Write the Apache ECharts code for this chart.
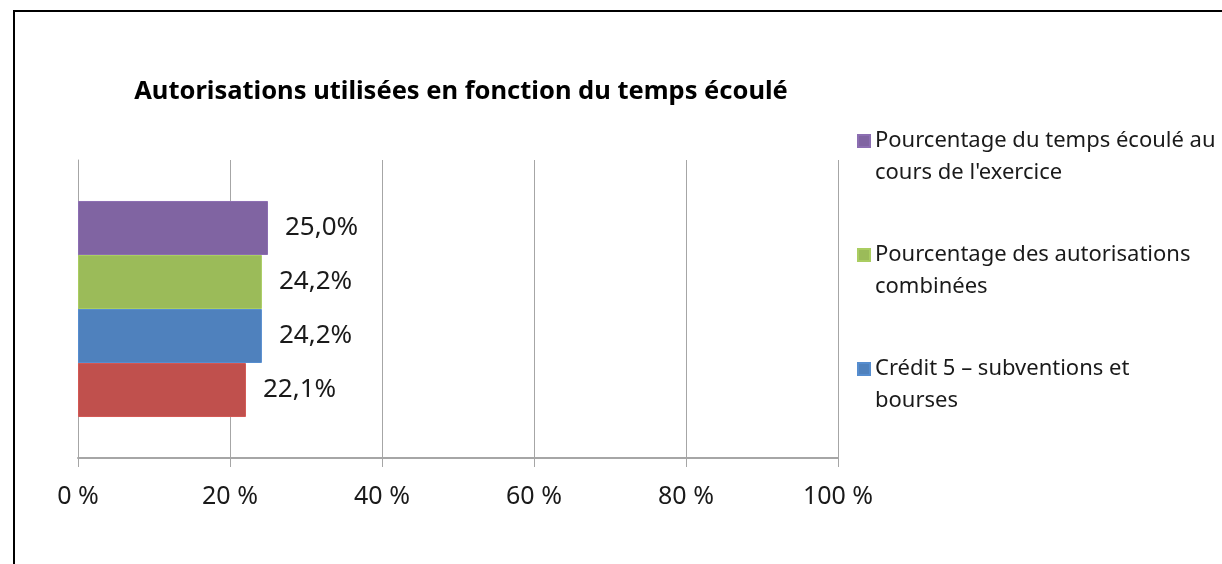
<!DOCTYPE html>
<html>
<head>
<meta charset="utf-8">
<script src="https://cdn.jsdelivr.net/npm/echarts@6/dist/echarts.min.js"></script>
<style>
  html, body { margin: 0; padding: 0; background: #fff; }
  #main { width: 1222px; height: 564px; }
</style>
</head>
<body>
<div id="main"></div>
<script>
// données (de haut en bas)
var categories = ['Autorisations'];
var seriesNames = [
  'Pourcentage du temps écoulé au cours de l\'exercice',
  'Pourcentage des autorisations combinées',
  'Crédit 5 – subventions et bourses',
  'Crédit 1 – dépenses de fonctionnement'
];
var seriesValues = [25.0, 24.2, 24.2, 22.1];
var seriesColors = ['#8064A2', '#9BBB59', '#4F81BD', '#C0504D'];
var legendNames = [seriesNames[0], seriesNames[1], seriesNames[2]];
var legendWrapped = {};
legendWrapped[seriesNames[0]] = 'Pourcentage du temps écoulé au\ncours de l\'exercice';
legendWrapped[seriesNames[1]] = 'Pourcentage des autorisations\ncombinées';
legendWrapped[seriesNames[2]] = 'Crédit 5 – subventions et\nbourses';
var tickValues = [0, 20, 40, 60, 80, 100];

var font = 'Noto Sans';
var chart = echarts.init(document.getElementById('main'));

var series = [];
for (var i = 0; i < seriesNames.length; i++) {
  series.push({
    name: seriesNames[i],
    type: 'bar',
    data: [seriesValues[i]],
    barGap: '0%',
    barCategoryGap: '27.5%',
    itemStyle: { color: seriesColors[i], borderColor: echarts.color.lift(seriesColors[i], -0.1), borderWidth: 1 },
    label: {
      show: true,
      position: 'right',
      distance: 17,
      fontFamily: font,
      fontSize: 26,
      color: '#1a1a1a',
      formatter: function (p) { return p.value.toFixed(1).replace('.', ',') + '%'; }
    }
  });
}

var option = {
  backgroundColor: '#ffffff',
  animation: false,
  title: {
    text: 'Autorisations utilisées en fonction du temps écoulé',
    left: 456,
    textAlign: 'center',
    top: 74,
    textStyle: { fontFamily: font, fontSize: 25.5, fontWeight: 'bold', color: '#000' }
  },
  legend: {
    data: legendNames,
    orient: 'vertical',
    left: 857,
    top: 124,
    padding: 0,
    itemWidth: 12,
    itemHeight: 64,
    itemGap: 48,
    // carré aligné sur la première ligne du texte
    icon: 'path://M0,0 M0,10h12v12h-12z M0,64',
    formatter: function (name) { return legendWrapped[name]; },
    textStyle: { fontFamily: font, fontSize: 22, lineHeight: 32, color: '#1a1a1a' }
  },
  grid: { left: 78, right: 384, top: 160, bottom: 106 },
  xAxis: {
    type: 'value',
    min: 0,
    max: 100,
    interval: 20,
    axisLine: { show: true, lineStyle: { color: '#a6a6a6', width: 2 } },
    axisTick: { show: true, length: 9, lineStyle: { color: '#a6a6a6' } },
    splitLine: { show: true, lineStyle: { color: '#a6a6a6', width: 1 } },
    axisLabel: {
      margin: 26,
      fontFamily: font,
      fontSize: 25,
      color: '#1a1a1a',
      formatter: function (v) { return tickValues.indexOf(v) >= 0 ? v + ' %' : ''; }
    }
  },
  yAxis: {
    type: 'category',
    data: categories,
    axisLine: { show: true, lineStyle: { color: '#a6a6a6' } },
    axisTick: { show: false },
    axisLabel: { show: false }
  },
  series: series,
  graphic: [{
    type: 'rect',
    shape: { x: 14, y: 11, width: 1400, height: 800 },
    style: { fill: 'none', stroke: '#000', lineWidth: 2 },
    silent: true
  }]
};
chart.setOption(option);
</script>
</body>
</html>
